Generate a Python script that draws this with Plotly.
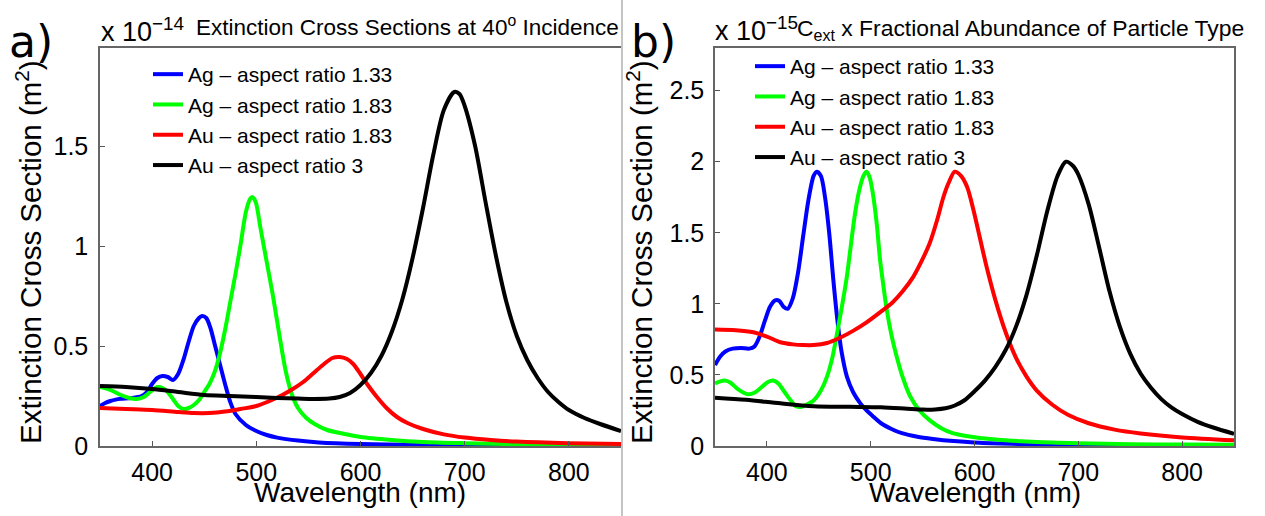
import plotly.graph_objects as go

# ---------------- Panel a) : extinction cross sections (x 1e-14 m^2) ----------------
wl_a_ag133 = [350, 355, 360, 365, 370, 380, 390, 395, 400, 405, 410, 415, 420, 425, 430, 435, 440, 445, 448,
              452, 456, 460, 465, 470, 475, 480, 490, 500, 510, 520, 540, 560, 600, 650, 700, 750, 800, 850]
ce_a_ag133 = [0.20, 0.215, 0.225, 0.232, 0.236, 0.24, 0.25, 0.27, 0.31, 0.34, 0.35, 0.345, 0.33, 0.36, 0.43,
              0.52, 0.60, 0.64, 0.65, 0.64, 0.59, 0.51, 0.41, 0.31, 0.22, 0.16, 0.105, 0.075, 0.055, 0.042,
              0.027, 0.018, 0.010, 0.006, 0.004, 0.003, 0.002, 0.002]

wl_a_ag183 = [350, 360, 370, 378, 385, 392, 398, 405, 410, 415, 420, 425, 430, 435, 440, 445, 450, 455, 460,
              465, 470, 475, 480, 485, 490, 494, 496, 498, 500, 504, 510, 516, 522, 528, 534, 540, 548, 556,
              568, 585, 600, 630, 660, 700, 750, 800, 850]
ce_a_ag183 = [0.295, 0.28, 0.255, 0.24, 0.235, 0.245, 0.27, 0.295, 0.29, 0.27, 0.235, 0.20, 0.185, 0.19, 0.205,
              0.23, 0.27, 0.31, 0.37, 0.46, 0.58, 0.72, 0.86, 1.01, 1.17, 1.235, 1.245, 1.235, 1.21, 1.09,
              0.92, 0.75, 0.56, 0.38, 0.26, 0.19, 0.14, 0.11, 0.08, 0.06, 0.045, 0.03, 0.02, 0.014, 0.009,
              0.006, 0.005]

wl_a_au183 = [350, 375, 400, 425, 440, 455, 470, 485, 500, 515, 525, 535, 545, 555, 565, 573, 580, 587, 593,
              600, 607, 615, 625, 635, 645, 660, 680, 700, 725, 750, 800, 850]
ce_a_au183 = [0.19, 0.185, 0.18, 0.17, 0.165, 0.165, 0.172, 0.185, 0.20, 0.23, 0.255, 0.285, 0.32, 0.365, 0.41,
              0.44, 0.445, 0.435, 0.41, 0.36, 0.305, 0.25, 0.19, 0.145, 0.115, 0.085, 0.058, 0.042, 0.030,
              0.022, 0.014, 0.010]

wl_a_au3 = [350, 375, 400, 425, 450, 475, 500, 520, 540, 555, 570, 580, 590, 600, 610, 620, 630, 640, 650,
            660, 670, 680, 690, 695, 700, 710, 720, 730, 740, 750, 760, 770, 780, 790, 800, 815, 830, 850]
ce_a_au3 = [0.30, 0.295, 0.285, 0.27, 0.255, 0.25, 0.245, 0.24, 0.237, 0.235, 0.237, 0.245, 0.265, 0.305,
            0.365, 0.45, 0.57, 0.73, 0.94, 1.19, 1.46, 1.68, 1.77, 1.76, 1.70, 1.50, 1.22, 0.95, 0.72, 0.55,
            0.43, 0.34, 0.27, 0.22, 0.18, 0.14, 0.11, 0.075]

# ---------------- Panel b) : C_ext x fractional abundance (x 1e-15 m^2) ----------------
wl_b_ag133 = [350, 355, 360, 367, 375, 383, 388, 393, 398, 403, 408, 412, 416, 420, 425, 430, 435, 440, 445,
              448, 452, 456, 460, 464, 468, 472, 477, 483, 490, 496, 502, 510, 520, 530, 545, 560, 580, 605,
              650, 700, 750, 800, 850]
ce_b_ag133 = [0.57, 0.63, 0.665, 0.685, 0.69, 0.685, 0.70, 0.77, 0.88, 0.98, 1.025, 1.02, 0.98, 0.965, 1.04,
              1.22, 1.48, 1.73, 1.90, 1.93, 1.90, 1.75, 1.50, 1.17, 0.88, 0.66, 0.49, 0.38, 0.30, 0.25, 0.21,
              0.16, 0.12, 0.09, 0.065, 0.05, 0.035, 0.022, 0.013, 0.009, 0.006, 0.005, 0.004]

wl_b_ag183 = [350, 355, 360, 365, 372, 381, 388, 395, 401, 406, 411, 417, 423, 428, 433, 438, 445, 452, 458,
              463, 467, 472, 477, 481, 485, 489, 493, 496, 499, 502, 506, 509, 512, 515, 520, 525, 531, 538,
              547, 557, 568, 579, 592, 605, 630, 660, 700, 750, 800, 850]
ce_b_ag183 = [0.44, 0.455, 0.46, 0.445, 0.40, 0.365, 0.375, 0.415, 0.45, 0.46, 0.44, 0.38, 0.32, 0.28, 0.275,
              0.29, 0.32, 0.39, 0.49, 0.62, 0.77, 0.97, 1.19, 1.42, 1.64, 1.80, 1.90, 1.93, 1.89, 1.78, 1.55,
              1.31, 1.14, 0.98, 0.78, 0.63, 0.48, 0.35, 0.25, 0.18, 0.125, 0.09, 0.07, 0.056, 0.04, 0.028,
              0.02, 0.013, 0.01, 0.008]

wl_b_au183 = [350, 370, 387, 400, 413, 425, 435, 445, 458, 470, 483, 496, 508, 521, 531, 541, 549, 557, 564,
              570, 575, 581, 587, 593, 599, 605, 612, 620, 630, 640, 650, 660, 675, 690, 710, 735, 760, 800, 850]
ce_b_au183 = [0.82, 0.815, 0.80, 0.77, 0.73, 0.715, 0.71, 0.71, 0.725, 0.76, 0.81, 0.87, 0.935, 1.01, 1.09,
              1.19, 1.30, 1.43, 1.59, 1.75, 1.85, 1.93, 1.90, 1.82, 1.66, 1.47, 1.25, 1.03, 0.80, 0.62, 0.49,
              0.39, 0.29, 0.22, 0.16, 0.115, 0.088, 0.06, 0.04]

wl_b_au3 = [350, 380, 413, 445, 480, 510, 535, 550, 562, 572, 581, 590, 600, 610, 620, 630, 640, 650, 660,
            670, 680, 688, 695, 700, 710, 720, 730, 740, 750, 760, 770, 780, 790, 800, 815, 830, 850]
ce_b_au3 = [0.34, 0.325, 0.30, 0.28, 0.276, 0.272, 0.262, 0.256, 0.257, 0.265, 0.285, 0.32, 0.385, 0.46,
            0.555, 0.675, 0.84, 1.06, 1.34, 1.65, 1.90, 2.00, 1.97, 1.91, 1.70, 1.40, 1.09, 0.84, 0.65, 0.51,
            0.41, 0.33, 0.27, 0.225, 0.17, 0.13, 0.085]

series_names = ["Ag \u2013 aspect ratio 1.33", "Ag \u2013 aspect ratio 1.83",
                "Au \u2013 aspect ratio 1.83", "Au \u2013 aspect ratio 3"]
series_colors = ["#0000ff", "#00ff00", "#ff0000", "#000000"]

x_ticks = [400, 500, 600, 700, 800]
y_ticks_a = [0, 0.5, 1, 1.5]
y_ticks_b = [0, 0.5, 1, 1.5, 2, 2.5]

panel_a = [(wl_a_ag133, ce_a_ag133), (wl_a_ag183, ce_a_ag183), (wl_a_au183, ce_a_au183), (wl_a_au3, ce_a_au3)]
panel_b = [(wl_b_ag133, ce_b_ag133), (wl_b_ag183, ce_b_ag183), (wl_b_au183, ce_b_au183), (wl_b_au3, ce_b_au3)]

FONT = "Liberation Sans, Arial, Helvetica, sans-serif"

fig = go.Figure()
for (xs, ys), name, col in zip(panel_a, series_names, series_colors):
    fig.add_trace(go.Scatter(x=xs, y=ys, mode="lines", name=name,
                             line=dict(color=col, width=4, shape="spline", smoothing=0.8),
                             xaxis="x", yaxis="y", legend="legend"))
for (xs, ys), name, col in zip(panel_b, series_names, series_colors):
    fig.add_trace(go.Scatter(x=xs, y=ys, mode="lines", name=name,
                             line=dict(color=col, width=4, shape="spline", smoothing=0.8),
                             xaxis="x2", yaxis="y2", legend="legend2"))

W, H = 1265, 516
L, R, T, B = 100, 31, 48, 70
PW, PH = W - L - R, H - T - B


def px(xpix):
    return (xpix - L) / PW


def py(ypix):
    return (H - B - ypix) / PH


axis_common = dict(showline=True, linecolor="#666666", linewidth=1.5, mirror=True,
                   ticks="inside", ticklen=5, tickwidth=1.2, tickcolor="#555555",
                   showgrid=False, zeroline=False,
                   tickfont=dict(family=FONT, size=25, color="#000000"))

fig.update_layout(
    width=W, height=H,
    margin=dict(l=L, r=R, t=T, b=B, pad=0),
    paper_bgcolor="white", plot_bgcolor="white",
    font=dict(family=FONT, color="#000000"),
    xaxis=dict(domain=[0, px(621)], range=[350, 850], tickvals=x_ticks, anchor="y",
               ticklabelstandoff=3, **axis_common),
    yaxis=dict(domain=[0, 1], range=[0, 1.99], tickvals=y_ticks_a,
               ticktext=["0", "0.5", "1", "1.5"], anchor="x", ticklabelstandoff=5, **axis_common),
    xaxis2=dict(domain=[px(715), 1], range=[350, 850], tickvals=x_ticks, anchor="y2",
                ticklabelstandoff=3, **axis_common),
    yaxis2=dict(domain=[0, 1], range=[0, 2.8], tickvals=y_ticks_b,
                ticktext=["0", "0.5", "1", "1.5", "2", "2.5"], anchor="x2", ticklabelstandoff=4,
                **axis_common),
    legend=dict(x=px(148), y=py(54), xanchor="left", yanchor="top", bgcolor="rgba(0,0,0,0)",
                borderwidth=0, font=dict(family=FONT, size=21, color="#000000")),
    legend2=dict(x=px(750), y=py(46), xanchor="left", yanchor="top", bgcolor="rgba(0,0,0,0)",
                 borderwidth=0, font=dict(family=FONT, size=21, color="#000000")),
    showlegend=True,
)

ann = []
# panel letters
ann.append(dict(text="a)", x=px(7), y=py(41), xref="paper", yref="paper", xanchor="left", yanchor="middle",
                showarrow=False, font=dict(family="DejaVu Sans", size=44, color="#000000")))
ann.append(dict(text="b)", x=px(629), y=py(41), xref="paper", yref="paper", xanchor="left", yanchor="middle",
                showarrow=False, font=dict(family="DejaVu Sans", size=44, color="#000000")))
# exponent labels and titles
ann.append(dict(text="x 10<sup>\u221214</sup>", x=px(99), y=py(49), xref="paper", yref="paper",
                xanchor="left", yanchor="bottom", showarrow=False,
                font=dict(family=FONT, size=27, color="#000000")))
ann.append(dict(text="Extinction Cross Sections at 40<sup>o</sup> Incidence", x=px(194), y=py(42),
                xref="paper", yref="paper", xanchor="left", yanchor="bottom", showarrow=False,
                font=dict(family=FONT, size=22.5, color="#000000")))
ann.append(dict(text="x 10<sup>\u221215</sup>", x=px(713), y=py(48), xref="paper", yref="paper",
                xanchor="left", yanchor="bottom", showarrow=False,
                font=dict(family=FONT, size=27, color="#000000")))
ann.append(dict(text="C<sub>ext</sub> x Fractional Abundance of Particle Type", x=px(795), y=py(46),
                xref="paper", yref="paper", xanchor="left", yanchor="bottom", showarrow=False,
                font=dict(family=FONT, size=22.9, color="#000000")))
# axis titles
for cx in (360, 974.5):
    ann.append(dict(text="Wavelength (nm)", x=px(cx), y=py(492), xref="paper", yref="paper",
                    xanchor="center", yanchor="middle", showarrow=False,
                    font=dict(family=FONT, size=28, color="#000000")))
for cx in (28, 639):
    ann.append(dict(text="Extinction Cross Section (m<sup>2</sup>)", x=px(cx), y=py(252), xref="paper",
                    yref="paper", xanchor="center", yanchor="middle", textangle=-90, showarrow=False,
                    font=dict(family=FONT, size=29.5, color="#000000")))
fig.update_layout(annotations=ann)

# thin separator between the two panels
fig.add_shape(type="line", xref="paper", yref="paper", x0=px(622), x1=px(622), y0=py(H), y1=py(0),
              line=dict(color="#c4c4c4", width=2))

fig.write_html("out.html")
